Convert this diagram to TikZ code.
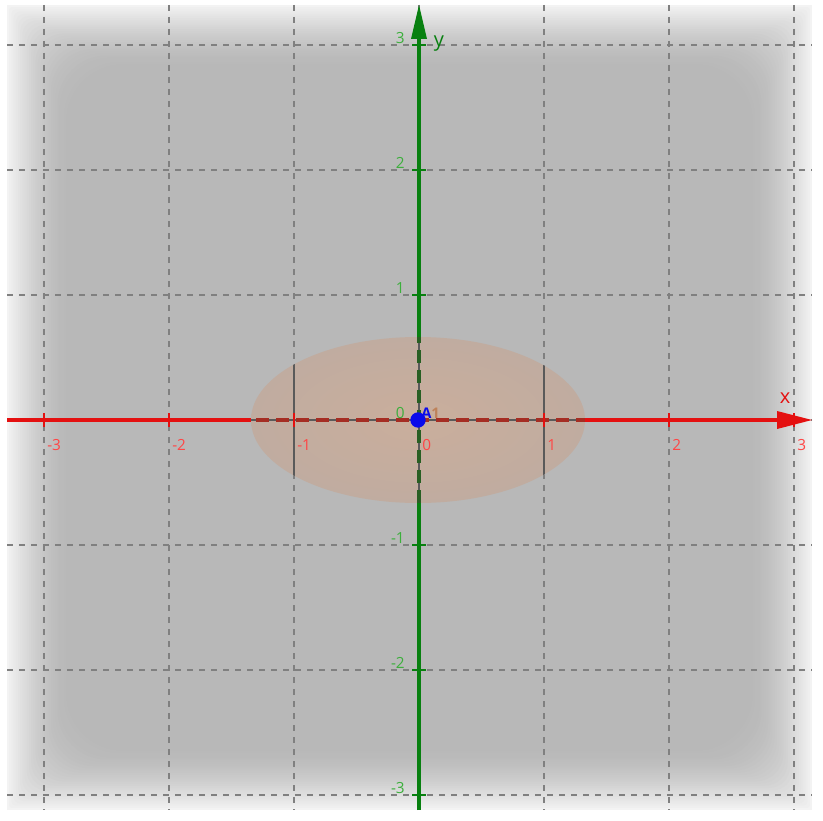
\documentclass[tikz,border=0pt]{standalone}
\usepackage{fontspec}
\setmainfont{Open Sans}
\definecolor{gridc}{RGB}{128,128,128}
\definecolor{axred}{RGB}{228,16,16}
\definecolor{axgreen}{RGB}{8,128,16}
\definecolor{dred}{RGB}{165,45,35}
\definecolor{dgreen}{RGB}{40,95,35}
\definecolor{labred}{RGB}{255,70,70}
\definecolor{labgreen}{RGB}{60,175,60}
\definecolor{ellin}{RGB}{202,174,156}
\definecolor{ellout}{RGB}{192,172,160}
\definecolor{inline}{RGB}{90,90,90}
\definecolor{ptblue}{RGB}{10,10,235}
\definecolor{lblone}{RGB}{190,130,90}
\begin{document}
\begin{tikzpicture}[x=0.75pt,y=-0.75pt,
  gridline/.style={gridc,line width=1.1pt,dash pattern=on 4.5pt off 4.5pt},
  xaxis/.style={axred,line width=2.6pt},
  yaxis/.style={axgreen,line width=2.6pt},
  innerline/.style={inline,line width=1.9pt},
  xtick/.style={axred,line width=1.8pt},
  ytick/.style={axgreen,line width=1.8pt},
  xlab/.style={labred,font=\fontsize{11.5}{12}\selectfont,anchor=north west,inner sep=0pt},
  ylab/.style={labgreen,font=\fontsize{11.5}{12}\selectfont,anchor=east,inner sep=0pt},
  axlab/.style={font=\fontsize{15}{16}\selectfont,inner sep=0pt}]
\useasboundingbox (0,0) rectangle (823,820);
\fill[white] (0,0) rectangle (823,820);
% vignette background
\foreach \i in {0,...,30} {
  \pgfmathtruncatemacro\v{243-59*sin(90*\i/30)}
  \pgfmathsetmacro\d{\i*2.2}
  \pgfmathsetmacro\r{\i*1.6}
  \definecolor{bgc}{RGB}{\v,\v,\v}
  \fill[bgc,rounded corners=\r pt] ({7+\d},{5+\d}) rectangle ({812-\d},{810-\d});
}
% grid
\foreach \k in {-3,...,3} {
  \draw[gridline] ({419+125*\k},5) -- ({419+125*\k},810);
  \draw[gridline] (7,{420-125*\k}) -- (812,{420-125*\k});
}
% ellipse
\shade[inner color=ellin,outer color=ellout] (418,420) ellipse [x radius=167, y radius=83];
\begin{scope}
  \clip (418,420) ellipse [x radius=167, y radius=83];
  \draw[innerline] (294,330) -- (294,510);
  \draw[innerline] (544,330) -- (544,510);
  \draw[innerline] (419,330) -- (419,510);
  \draw[innerline] (240,420) -- (600,420);
  \draw[dred,line width=2.6pt,dash pattern=on 10pt off 5pt,dash phase=3pt] (240,420) -- (600,420);
  \draw[dgreen,line width=2.6pt,dash pattern=on 10pt off 5pt] (419,330) -- (419,510);
\end{scope}
% axes
\draw[xaxis] (7,420) -- (251,420);
\draw[xaxis] (585,420) -- (778,420);
\draw[yaxis] (419,810) -- (419,503);
\draw[yaxis] (419,337) -- (419,36);
\coordinate (xtip) at (812,420);
\coordinate (ytip) at (419,5);
\fill[axred] (777,411) -- (xtip) -- (777,429) -- cycle;
\fill[axgreen] (411,39) -- (ytip) -- (427,39) -- cycle;
% ticks and labels
\foreach \k in {-3,-2,-1,1,2,3} {
  \draw[xtick] ({419+125*\k},413) -- ({419+125*\k},427);
  \draw[ytick] (412,{420-125*\k}) -- (426,{420-125*\k});
}
\foreach \k in {-3,...,3} {
  \node[xlab] (xl\k) at ({422+125*\k},439) {\k};
  \node[ylab] (yl\k) at (405,{413-125*\k}) {\k};
}
\node[axlab,text=axred] (xname) at (785,398) {x};
\node[axlab,text=axgreen] (yname) at (439,44) {y};
% point
\node[circle,fill=ptblue,inner sep=0pt,minimum size=11.5pt] (A) at (418,420) {};
\node[font=\fontsize{11}{12}\selectfont\bfseries,inner sep=0pt,anchor=west] (Alab) at (421,413) {\textcolor{ptblue}{A}\textcolor{lblone}{1}};
\end{tikzpicture}
\end{document}
